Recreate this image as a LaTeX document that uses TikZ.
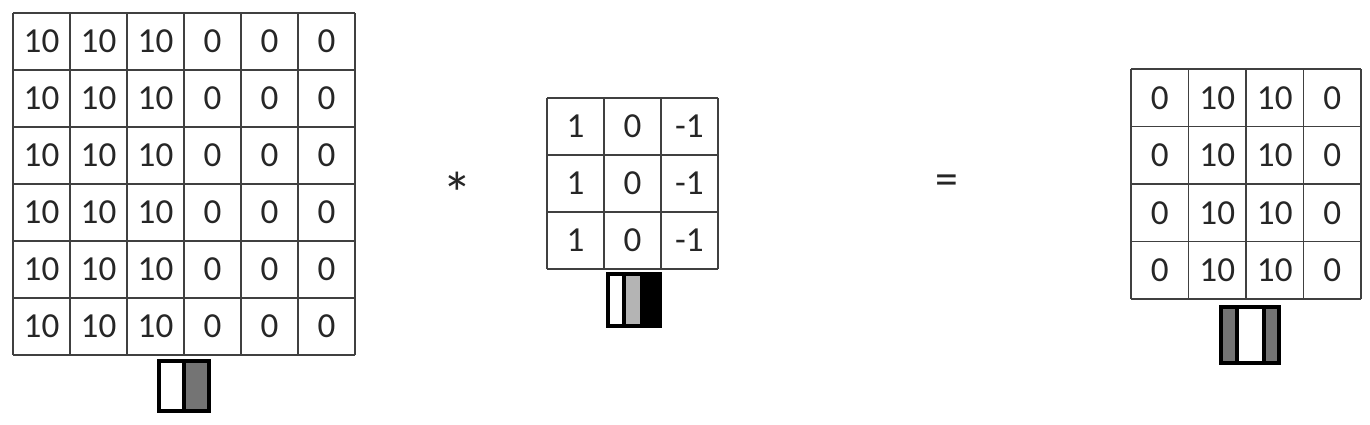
\documentclass[tikz,border=0pt]{standalone}
\usepackage{fontspec}
\setmainfont{Carlito}
\tikzset{
  cellline/.style={line width=1.1pt, black!75},
  val/.style={font=\fontsize{20}{20}\selectfont, text=black!85, inner sep=0pt},
  iconbox/.style={line width=1.9pt, black},
  op/.style={font=\fontsize{26}{26}\selectfont, text=black!85, inner sep=0pt},
}
\definecolor{midgray}{HTML}{747474}
\definecolor{lightgray}{HTML}{B4B4B4}
\begin{document}
\begin{tikzpicture}[x=0.02cm,y=-0.02cm]
\useasboundingbox (0,0) rectangle (1370,424);
% input image 6x6
\foreach \i in {0,...,6} {
  \draw[cellline] ({13+57*\i},13) -- ({13+57*\i},355);
  \draw[cellline] (13,{13+57*\i}) -- (355,{13+57*\i});
}
\foreach \r in {0,...,5}
  \foreach \c in {0,...,5}
    \node[val] (img-\r-\c) at ({41.5+57*\c},{41.5+57*\r}) {\ifnum\c<3 10\else 0\fi};
% filter 3x3
\foreach \i in {0,...,3} {
  \draw[cellline] ({547+57*\i},98) -- ({547+57*\i},269);
  \draw[cellline] (547,{98+57*\i}) -- (718,{98+57*\i});
}
\foreach \r in {0,...,2}
  \foreach \c/\v in {0/1,1/0,2/-1}
    \node[val] (flt-\r-\c) at ({575.5+57*\c},{126.5+57*\r}) {\v};
% output 4x4
\foreach \i in {0,...,4} {
  \draw[cellline] ({1131+57.5*\i},69) -- ({1131+57.5*\i},299);
  \draw[cellline] (1131,{69+57.5*\i}) -- (1361,{69+57.5*\i});
}
\foreach \r in {0,...,3}
  \foreach \c/\v in {0/0,1/10,2/10,3/0}
    \node[val] (out-\r-\c) at ({1159.75+57.5*\c},{97.75+57.5*\r}) {\v};
% operators
\node[op, font=\fontsize{34}{34}\selectfont] (star) at (457,193) {*};
\node[op] (eq) at (947,185) {=};
% shading icons
\fill[midgray] (184,361) rectangle (209,411);
\draw[iconbox] (159,361) rectangle (209,411);
\draw[iconbox] (184,361) -- (184,411);
\fill[lightgray] (624,274) rectangle (640,326);
\fill[black] (640,274) rectangle (660,326);
\draw[iconbox] (608,274) rectangle (660,326);
\draw[iconbox] (624,274) -- (624,326);
\fill[midgray] (1221,307) rectangle (1237,363);
\fill[midgray] (1264,307) rectangle (1279,363);
\draw[iconbox] (1221,307) rectangle (1279,363);
\draw[iconbox] (1237,307) -- (1237,363);
\draw[iconbox] (1264,307) -- (1264,363);
\end{tikzpicture}
\end{document}
